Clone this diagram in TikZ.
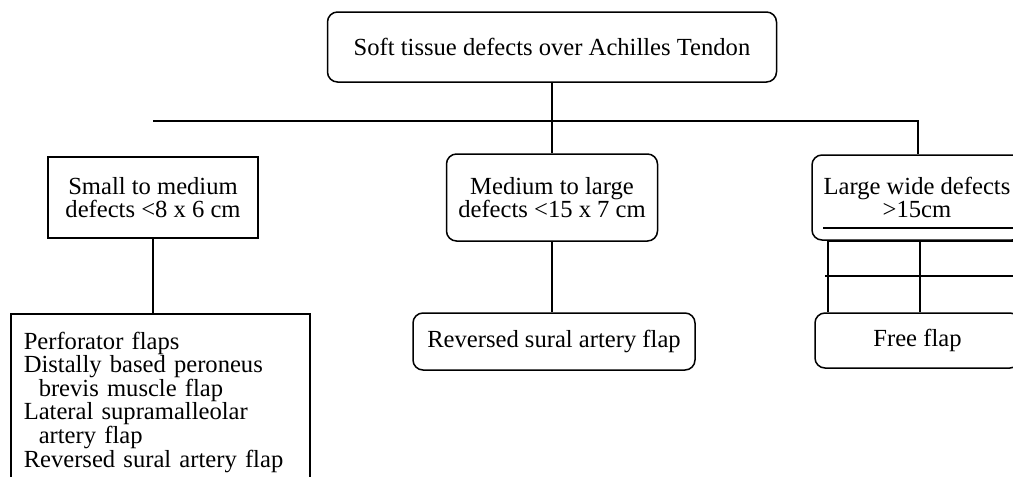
\documentclass[tikz,border=0pt]{standalone}
\usepackage{fontspec}
\setmainfont{Liberation Serif}

\begin{document}
\begin{tikzpicture}[x=1pt,y=-1pt]
    \tikzstyle{every node}=[font=\fontsize{24.6}{23.6}\selectfont, inner sep=0pt, align=center]
    \tikzstyle{rbox}=[draw, line width=1.5pt, rounded corners=10pt]
    \tikzstyle{sbox}=[draw, line width=1.5pt]
    \tikzstyle{link}=[line width=1.5pt]

    \useasboundingbox (0,0) rectangle (1013,477);
    \clip (0,0) rectangle (1013,477);

    \node[rbox, minimum width=449pt, minimum height=70pt] (top) at (552,47) {Soft tissue defects over Achilles Tendon};

    \node[sbox, minimum width=210pt, minimum height=81pt] (small) at (153,197.5) {Small to medium\\defects <8 x 6 cm};
    \node[rbox, minimum width=211pt, minimum height=87pt] (medium) at (552,197.5) {Medium to large\\defects <15 x 7 cm};
    \node[rbox, minimum width=210pt, minimum height=85pt] (large) at (917,197.5) {Large wide defects\\>15cm};

    \node[sbox, anchor=north west, text width=273pt, inner xsep=13pt, inner ysep=18pt, align=left] (list) at (10,313)
        {Perforator flaps\\Distally based peroneus\\\hspace*{15pt}brevis muscle flap\\Lateral supramalleolar\\\hspace*{15pt}artery flap\\Reversed sural artery flap};
    \node[rbox, minimum width=282pt, minimum height=57pt] (sural) at (554,341.5) {Reversed sural artery flap};
    \node[rbox, minimum width=205pt, minimum height=55pt] (free) at (917.5,340.5) {Free flap};

    % main bar
    \coordinate (bar) at (552,121);
    \coordinate (barL) at (153,121);
    \coordinate (barR) at (918,121);
    \draw[link] (top.south) -- (bar);
    \draw[link] (barL) -- (barR) -- (barR |- large.north);
    \draw[link] (bar) -- (medium.north);

    \draw[link] (small.south) -- (list.north -| small.south);
    \draw[link] (medium.south) -- (medium.south |- sural.north);

    % grid under the right column
    \coordinate (gl) at (828,241);
    \coordinate (gm) at (920,241);
    \draw[link] (823,228) -- (1013,228);
    \draw[link] (gl) -- (1013,241);
    \draw[link] (825,276) -- (1013,276);
    \draw[link] (gl) -- (gl |- free.north);
    \draw[link] (gm) -- (gm |- free.north);
\end{tikzpicture}
\end{document}
